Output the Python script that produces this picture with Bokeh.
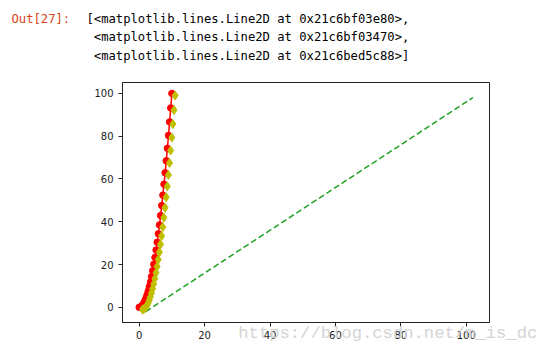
from bokeh.plotting import figure
from bokeh.models import Range1d, FixedTicker, LinearAxis
from bokeh.layouts import column
from bokeh.core.properties import value
from bokeh.embed import file_html
from bokeh.resources import INLINE

# red series 'ro-'
red_x = [0.0, 0.345, 0.690, 1.034, 1.379, 1.724, 2.069, 2.414, 2.759, 3.103,
         3.448, 3.793, 4.138, 4.483, 4.828, 5.172, 5.517, 5.862, 6.207, 6.552,
         6.897, 7.241, 7.586, 7.931, 8.276, 8.621, 8.966, 9.310, 9.655, 10.0]
red_y = [0.0, 0.12, 0.48, 1.07, 1.90, 2.97, 4.28, 5.83, 7.61, 9.63,
         11.89, 14.39, 17.12, 20.10, 23.31, 26.75, 30.44, 34.36, 38.53, 42.93,
         47.56, 52.44, 57.55, 62.90, 68.49, 74.32, 80.38, 86.68, 93.22, 100.0]
# yellow diamonds 'yD'
yel_x = [1.0, 1.345, 1.690, 2.034, 2.379, 2.724, 3.069, 3.414, 3.759, 4.103,
         4.448, 4.793, 5.138, 5.483, 5.828, 6.172, 6.517, 6.862, 7.207, 7.552,
         7.897, 8.241, 8.586, 8.931, 9.276, 9.621, 9.966, 10.310, 10.655, 11.0]
yel_y = [-1.0, -0.88, -0.52, 0.07, 0.90, 1.97, 3.28, 4.83, 6.61, 8.63,
         10.89, 13.39, 16.12, 19.10, 22.31, 25.75, 29.44, 33.36, 37.53, 41.93,
         46.56, 51.44, 56.55, 61.90, 67.49, 73.32, 79.38, 85.68, 92.22, 99.0]
# green dashed 'g--'
grn_x = [2.0, 2.12, 2.48, 3.07, 3.90, 4.97, 6.28, 7.83, 9.61, 11.63,
         13.89, 16.39, 19.12, 22.10, 25.31, 28.75, 32.44, 36.36, 40.53, 44.93,
         49.56, 54.44, 59.55, 64.90, 70.49, 76.32, 82.38, 88.68, 95.22, 102.0]
grn_y = [-2.0, -1.88, -1.52, -0.93, -0.10, 0.97, 2.28, 3.83, 5.61, 7.63,
         9.89, 12.39, 15.12, 18.10, 21.31, 24.75, 28.44, 32.36, 36.53, 40.93,
         45.56, 50.44, 55.55, 60.90, 66.49, 72.32, 78.38, 84.68, 91.22, 98.0]

x_ticks = [0, 20, 40, 60, 80, 100]
y_ticks = [0, 20, 40, 60, 80, 100]

out_prompt = "Out[27]:"
out_lines = ["[<matplotlib.lines.Line2D at 0x21c6bf03e80>,",
             "<matplotlib.lines.Line2D at 0x21c6bf03470>,",
             "<matplotlib.lines.Line2D at 0x21c6bed5c88>]"]
watermark = "https://blog.csdn.net/m_is_dc"

W, H = 549, 352
HEAD = 82
FL, FR, FB = 122, 60, 30

# ---- header (notebook output text) ----
head = figure(width=W, height=HEAD, output_backend="svg", toolbar_location=None,
              x_range=Range1d(0, W), y_range=Range1d(HEAD, 0),
              x_axis_type=None, y_axis_type=None,
              min_border=0, min_border_left=0, min_border_right=0,
              min_border_top=0, min_border_bottom=0)
head.frame_align = False
head.outline_line_color = None
head.xgrid.visible = False
head.ygrid.visible = False
head.background_fill_color = "white"
head.border_fill_color = "white"
head.text(x=[11], y=[18.5], text=[out_prompt], text_font=value("DejaVu Sans Mono"),
          text_font_size="12.2px", text_color="#d84315", text_baseline="alphabetic")
head.text(x=[86, 93.3, 93.3], y=[18.5, 36.8, 55.1], text=out_lines,
          text_font=value("DejaVu Sans Mono"), text_font_size="12.2px",
          text_color="#000000", text_baseline="alphabetic")

# ---- main matplotlib-like chart ----
p = figure(width=W, height=H - HEAD, output_backend="svg", toolbar_location=None,
           x_range=Range1d(-5.1, 107.1), y_range=Range1d(-7.1, 105.1),
           min_border_left=FL, min_border_top=0, min_border_right=FR,
           min_border_bottom=FB)
p.frame_align = False
p.background_fill_color = "white"
p.border_fill_color = "white"
p.outline_line_color = "#222222"
p.outline_line_width = 1
p.xgrid.visible = False
p.ygrid.visible = False

for ax, ticks in ((p.xaxis, x_ticks), (p.yaxis, y_ticks)):
    ax.ticker = FixedTicker(ticks=ticks)
    ax.minor_tick_line_color = None
    ax.major_tick_in = 0
    ax.major_tick_out = 4
    ax.major_tick_line_color = "#222222"
    ax.axis_line_color = "#222222"
    ax.major_label_text_font = "DejaVu Sans"
    ax.major_label_text_font_size = "10px"
    ax.major_label_text_color = "#222222"
p.xaxis.major_label_standoff = 4
p.yaxis.major_label_standoff = 5

p.line(grn_x, grn_y, line_color="#22a022", line_width=1.5, line_dash="6 3")
p.line(red_x, red_y, line_color="#ff0000", line_width=1.5)
p.scatter(red_x, red_y, marker="circle", size=6.5, fill_color="#ff0000",
          line_color="#ff0000")
p.scatter(yel_x, yel_y, marker="diamond", size=9, fill_color="#bfbf00",
          line_color="#bfbf00")

# watermark drawn as a single tick label of an extra (line-less) bottom axis
wm_pos = 76.0
wm_axis = LinearAxis(ticker=FixedTicker(ticks=[wm_pos]),
                     major_label_overrides={wm_pos: watermark},
                     axis_line_color=None, major_tick_line_color=None,
                     minor_tick_line_color=None,
                     major_tick_in=0, major_tick_out=0,
                     major_label_standoff=-18,
                     major_label_text_font="Liberation Mono",
                     major_label_text_font_size="17.2px",
                     major_label_text_color="#d4d4d4")
p.add_layout(wm_axis, "below")

open("out.html", "w").write(file_html(column(head, p, spacing=0), INLINE))
